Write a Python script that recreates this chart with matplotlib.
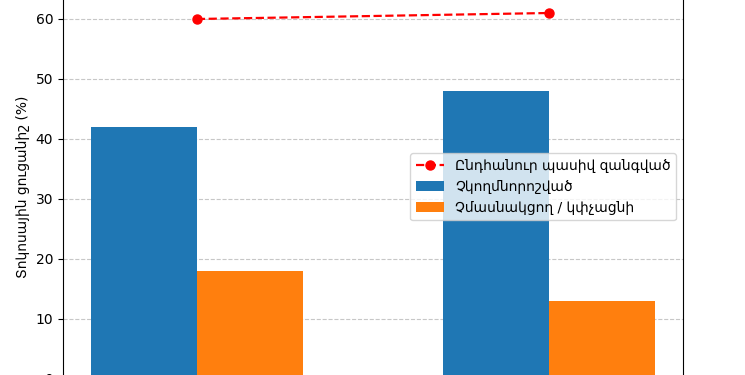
import matplotlib
matplotlib.use("Agg")
import matplotlib.pyplot as plt
import numpy as np

groups = ["Խումբ 1", "Խումբ 2"]
undecided = [42, 48]
nonparticipating = [18, 13]
passive_total = [60, 61]

labels = ["Ընդհանուր պասիվ զանգված", "Չկողմնորոշված", "Չմասնակցող / կփչացնի"]
ylabel = "Տոկոսային ցուցանիշ (%)"

fig = plt.figure(figsize=(7.45, 3.75), dpi=100)
W, H = 745, 375
ymax = 61 * 1.05
ppu = 6.0
bottom_px = 379
height_px = ymax * ppu
ax = fig.add_axes([63 / W, (H - bottom_px) / H, (683 - 63) / W, height_px / H])

x = np.arange(len(groups))
w = 0.3
ax.bar(x - w / 2, undecided, w, color="#1f77b4", label=labels[1])
ax.bar(x + w / 2, nonparticipating, w, color="#ff7f0e", label=labels[2])
ax.plot(x, passive_total, "r--o", linewidth=1.6, markersize=6.5, label=labels[0])

ax.set_ylabel(ylabel)
ax.yaxis.grid(True, linestyle="--", alpha=0.7)
ax.set_axisbelow(True)
ax.set_xticks(x)
ax.set_xticklabels(groups)

h, l = ax.get_legend_handles_labels()
order = [l.index(t) for t in labels]
ax.legend([h[i] for i in order], [l[i] for i in order], loc="center right")

fig.savefig("out.png", dpi=100)
